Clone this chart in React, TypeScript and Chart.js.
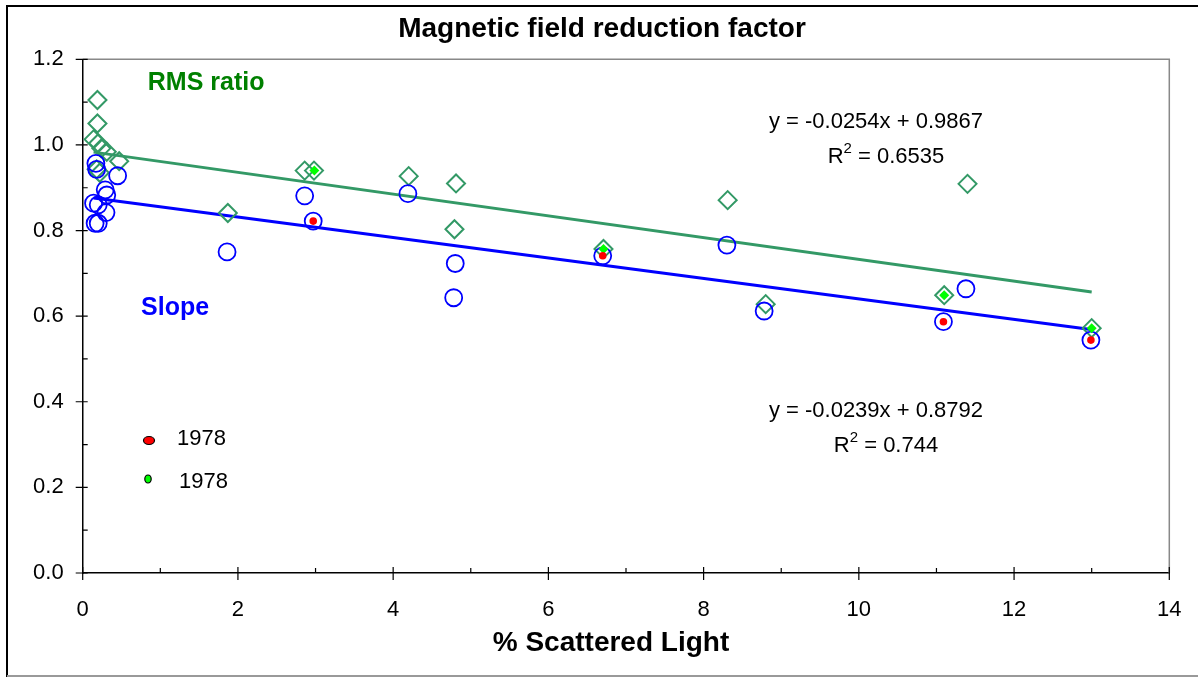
import React, { useEffect, useRef } from 'react';
import { Chart, registerables } from 'chart.js';

Chart.register(...registerables);

// ---- data ----
const rmsX = [0.19, 0.19, 0.14, 0.2, 0.24, 0.31, 0.47, 0.18, 0.22, 1.87, 2.86, 2.98, 4.2, 4.81, 4.79, 6.71, 8.31, 8.8, 11.1, 11.4, 13.0];
const rmsY = [1.105, 1.05, 1.013, 1.004, 0.992, 0.984, 0.962, 0.943, 0.935, 0.841, 0.94, 0.94, 0.927, 0.91, 0.803, 0.757, 0.871, 0.628, 0.649, 0.909, 0.572];

const slopeX = [0.17, 0.18, 0.45, 0.29, 0.31, 0.14, 0.2, 0.3, 0.16, 0.2, 1.86, 2.86, 2.97, 4.19, 4.8, 4.78, 6.7, 8.3, 8.78, 11.09, 11.38, 12.99];
const slopeY = [0.957, 0.943, 0.928, 0.895, 0.883, 0.864, 0.86, 0.842, 0.817, 0.817, 0.75, 0.881, 0.822, 0.886, 0.723, 0.643, 0.741, 0.766, 0.612, 0.587, 0.664, 0.544];

const red1978X = [2.97, 6.7, 11.09, 12.99];
const red1978Y = [0.822, 0.741, 0.587, 0.544];
const green1978X = [2.985, 6.71, 11.1, 13.0];
const green1978Y = [0.94, 0.757, 0.649, 0.572];

const fitSlopes = [-0.0254, -0.0239];
const fitIntercepts = [0.9867, 0.8792];
const fitR2 = ['0.6535', '0.744'];

const xTicks = [0, 2, 4, 6, 8, 10, 12, 14];
const yTicks = [0, 0.2, 0.4, 0.6, 0.8, 1.0, 1.2];

const titleText = 'Magnetic field reduction factor';
const xTitleText = '% Scattered Light';
const legendLabels = ['1978', '1978'];

// annotation anchors (data coordinates)
const eqAnchorX = [10.22, 10.22];
const eqAnchorY = [1.0535, 0.378];
const r2AnchorX = [10.35, 10.35];
const r2AnchorY = [0.972, 0.297];

const FONT = "'Liberation Sans', Arial, sans-serif";
const GREEN = '#339966';
const BLUE = '#0000ff';

export default function App() {
  const ref = useRef<HTMLCanvasElement>(null);

  useEffect(() => {
    const canvas = ref.current!;
    const pts = (xs: number[], ys: number[]) => xs.map((x, i) => ({ x, y: ys[i] }));
    const fitLine = (k: number, xs: number[]) => {
      const x0 = Math.min(...xs);
      const x1 = Math.max(...xs);
      return [
        { x: x0, y: fitIntercepts[k] + fitSlopes[k] * x0 },
        { x: x1, y: fitIntercepts[k] + fitSlopes[k] * x1 },
      ];
    };

    const decor = {
      id: 'decor',
      afterDraw(chart: any) {
        const ctx = chart.ctx as CanvasRenderingContext2D;
        const xs = chart.scales.x;
        const ys = chart.scales.y;
        const { left, right, top, bottom } = chart.chartArea;
        ctx.save();

        // outer frame
        ctx.strokeStyle = '#000';
        ctx.lineWidth = 2;
        ctx.beginPath();
        ctx.moveTo(7, 677);
        ctx.lineTo(7, 6);
        ctx.lineTo(1198, 6);
        ctx.stroke();
        ctx.strokeStyle = '#999';
        ctx.beginPath();
        ctx.moveTo(7, 676);
        ctx.lineTo(1198, 676);
        ctx.stroke();

        // plot area top/right border
        ctx.strokeStyle = '#888';
        ctx.lineWidth = 1.5;
        ctx.beginPath();
        ctx.moveTo(left, top);
        ctx.lineTo(right, top);
        ctx.lineTo(right, bottom);
        ctx.stroke();

        // ticks
        ctx.strokeStyle = '#000';
        ctx.lineWidth = 1.2;
        ctx.beginPath();
        for (let v = 0; v <= 14.001; v += 1) {
          const px = xs.getPixelForValue(v);
          const major = Math.round(v) % 2 === 0;
          ctx.moveTo(px, bottom - (major ? 6 : 5));
          ctx.lineTo(px, bottom + (major ? 7 : 0));
        }
        for (let i = 0; i <= 12; i++) {
          const py = ys.getPixelForValue(i / 10);
          const major = i % 2 === 0;
          ctx.moveTo(left - (major ? 7 : 0), py);
          ctx.lineTo(left + 5, py);
        }
        ctx.stroke();

        // titles
        ctx.fillStyle = '#000';
        ctx.textAlign = 'center';
        ctx.textBaseline = 'middle';
        ctx.font = `bold 28px ${FONT}`;
        ctx.fillText(titleText, 602, 29);
        ctx.fillText(xTitleText, 611, 643);

        // series labels
        ctx.font = `bold 25px ${FONT}`;
        ctx.fillStyle = '#008000';
        ctx.fillText('RMS ratio', xs.getPixelForValue(1.59), ys.getPixelForValue(1.145));
        ctx.fillStyle = BLUE;
        ctx.fillText('Slope', xs.getPixelForValue(1.19), ys.getPixelForValue(0.619));

        // equations
        ctx.fillStyle = '#000';
        for (let k = 0; k < 2; k++) {
          ctx.font = `22px ${FONT}`;
          ctx.textAlign = 'center';
          const eq = `y = ${fitSlopes[k].toFixed(4)}x + ${fitIntercepts[k].toFixed(4)}`;
          ctx.fillText(eq, xs.getPixelForValue(eqAnchorX[k]), ys.getPixelForValue(eqAnchorY[k]));
          const cx = xs.getPixelForValue(r2AnchorX[k]);
          const cy = ys.getPixelForValue(r2AnchorY[k]);
          const a = 'R';
          const b = ` = ${fitR2[k]}`;
          ctx.font = `22px ${FONT}`;
          const wa = ctx.measureText(a).width;
          const wb = ctx.measureText(b).width;
          ctx.font = `15px ${FONT}`;
          const ws = ctx.measureText('2').width;
          const x0 = cx - (wa + ws + wb) / 2;
          ctx.textAlign = 'left';
          ctx.font = `22px ${FONT}`;
          ctx.fillText(a, x0, cy);
          ctx.fillText(b, x0 + wa + ws, cy);
          ctx.font = `15px ${FONT}`;
          ctx.fillText('2', x0 + wa, cy - 8);
        }

        // legend
        const legendColors = [chart.data.datasets[0].backgroundColor, chart.data.datasets[1].backgroundColor];
        const legMarkX = [149, 148];
        const legMarkY = [440.5, 479];
        const legRx = [5.5, 3.2];
        const legTextX = [177, 179];
        const legTextY = [439, 482];
        ctx.lineWidth = 1.2;
        ctx.strokeStyle = '#000';
        for (let k = 0; k < 2; k++) {
          ctx.beginPath();
          ctx.ellipse(legMarkX[k], legMarkY[k], legRx[k], 4, 0, 0, Math.PI * 2);
          ctx.fillStyle = legendColors[k];
          ctx.fill();
          ctx.stroke();
          ctx.fillStyle = '#000';
          ctx.font = `22px ${FONT}`;
          ctx.textAlign = 'left';
          ctx.fillText(legendLabels[k], legTextX[k], legTextY[k]);
        }
        ctx.restore();
      },
    };

    const chart = new Chart(canvas, {
      type: 'scatter',
      data: {
        datasets: [
          {
            label: '1978',
            data: pts(red1978X, red1978Y),
            pointStyle: 'circle',
            pointRadius: 3.8,
            backgroundColor: '#ff0000',
            borderWidth: 0,
            borderColor: '#ff0000',
            order: 0,
          },
          {
            label: '1978',
            data: pts(green1978X, green1978Y),
            pointStyle: 'rectRot',
            pointRadius: 5,
            backgroundColor: '#00ff00',
            borderWidth: 0,
            borderColor: '#00ff00',
            order: 1,
          },
          {
            label: 'Slope',
            data: pts(slopeX, slopeY),
            pointStyle: 'circle',
            pointRadius: 8.5,
            backgroundColor: 'rgba(0,0,0,0)',
            borderColor: BLUE,
            borderWidth: 1.8,
            order: 2,
          },
          {
            label: 'RMS ratio',
            data: pts(rmsX, rmsY),
            pointStyle: 'rectRot',
            pointRadius: 9,
            backgroundColor: 'rgba(0,0,0,0)',
            borderColor: GREEN,
            borderWidth: 2,
            order: 3,
          },
          {
            label: 'RMS fit',
            type: 'line',
            data: fitLine(0, rmsX),
            showLine: true,
            pointRadius: 0,
            borderColor: GREEN,
            borderWidth: 3,
            order: 4,
          },
          {
            label: 'Slope fit',
            type: 'line',
            data: fitLine(1, slopeX),
            showLine: true,
            pointRadius: 0,
            borderColor: BLUE,
            borderWidth: 3,
            order: 5,
          },
        ],
      } as any,
      options: {
        responsive: false,
        animation: false,
        devicePixelRatio: 1,
        layout: { padding: { left: 12.7, right: 28.7, top: 59.3, bottom: 44 } },
        plugins: {
          legend: { display: false },
          tooltip: { enabled: false },
          title: { display: false },
        },
        scales: {
          x: {
            type: 'linear',
            min: 0,
            max: 14,
            afterBuildTicks: (s: any) => {
              s.ticks = xTicks.map((v) => ({ value: v }));
            },
            afterFit: (s: any) => {
              s.height = 60;
              s.paddingLeft = 0;
              s.paddingRight = 0;
            },
            grid: { drawOnChartArea: false, drawTicks: false },
            border: { display: true, color: '#000', width: 1.5 },
            ticks: {
              padding: 24,
              color: '#000',
              font: { family: FONT, size: 22 },
              callback: (v: any) => String(v),
            },
          },
          y: {
            type: 'linear',
            min: 0,
            max: 1.2,
            afterBuildTicks: (s: any) => {
              s.ticks = yTicks.map((v) => ({ value: v }));
            },
            afterFit: (s: any) => {
              s.width = 70;
              s.paddingTop = 0;
              s.paddingBottom = 0;
            },
            grid: { drawOnChartArea: false, drawTicks: false },
            border: { display: true, color: '#000', width: 1.5 },
            ticks: {
              padding: 19,
              color: '#000',
              font: { family: FONT, size: 22 },
              callback: (v: any) => Number(v).toFixed(1),
            },
          },
        },
      } as any,
      plugins: [decor],
    });
    return () => chart.destroy();
  }, []);

  return (
    <div style={{ position: 'absolute', left: 0, top: 0, width: 1198, height: 677, background: '#fff' }}>
      <canvas ref={ref} width={1198} height={677} style={{ display: 'block' }} />
    </div>
  );
}
